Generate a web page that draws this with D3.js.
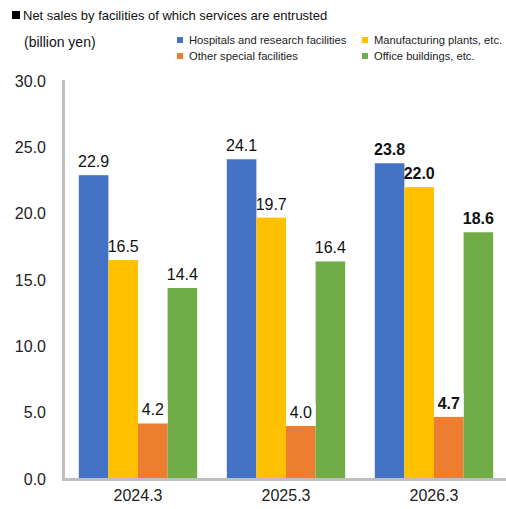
<!DOCTYPE html>
<html>
<head>
<meta charset="utf-8">
<script src="https://cdn.jsdelivr.net/npm/d3@7"></script>
<style>
  body { margin: 0; background: #fff; }
  svg { font-family: "Liberation Sans", Arial, sans-serif; }
</style>
</head>
<body>
<svg></svg>
<script>
// chart data
var years = ["2024.3", "2025.3", "2026.3"];
var seriesNames = [
  "Hospitals and research facilities",
  "Manufacturing plants, etc.",
  "Other special facilities",
  "Office buildings, etc."
];
var hospitals = [22.9, 24.1, 23.8];
var manufacturing = [16.5, 19.7, 22.0];
var otherSpecial = [4.2, 4.0, 4.7];
var offices = [14.4, 16.4, 18.6];
var yTicks = [0, 5, 10, 15, 20, 25, 30];

var colors = ["#4472C4", "#FFC000", "#ED7D31", "#70AD47"];
var seriesValues = [hospitals, manufacturing, otherSpecial, offices];

var width = 506;
var height = 509;

var svg = d3.select("svg").attr("width", width).attr("height", height);

var xScale = d3.scaleBand()
  .domain(years)
  .range([64, 508])
  .paddingInner(0.2)
  .paddingOuter(0.1);

var xInner = d3.scaleBand()
  .domain(d3.range(seriesNames.length))
  .range([0, xScale.bandwidth()]);

var yScale = d3.scaleLinear().domain([0, 30]).range([479, 81]);

/* title + unit */
svg.append("rect").attr("x", 12).attr("y", 11).attr("width", 8).attr("height", 8).attr("fill", "#000");
svg.append("text").attr("x", 23).attr("y", 20)
  .attr("font-size", "13px").attr("fill", "#111")
  .text("Net sales by facilities of which services are entrusted");
svg.append("text").attr("x", 24).attr("y", 47)
  .attr("font-size", "14px").attr("fill", "#111")
  .text("(billion yen)");

/* legend */
var legendPos = [[177, 40], [362, 40], [177, 56], [362, 56]];
var legend = svg.selectAll(".legend")
  .data(seriesNames)
  .enter()
  .append("g")
  .attr("class", "legend")
  .attr("transform", (d, i) => "translate(" + legendPos[i][0] + "," + legendPos[i][1] + ")");
legend.append("rect")
  .attr("x", 0).attr("y", -3).attr("width", 6).attr("height", 6)
  .attr("fill", (d, i) => colors[i]);
legend.append("text")
  .attr("x", 12).attr("y", 4)
  .attr("font-size", "11.2px").attr("fill", "#222")
  .text((d) => d);

/* y axis labels */
var yAxis = d3.axisLeft(yScale)
  .tickValues(yTicks)
  .tickFormat(d3.format(".1f"))
  .tickSize(0)
  .tickPadding(0);
var yG = svg.append("g").attr("transform", "translate(46,0)").call(yAxis);
yG.select(".domain").remove();
yG.selectAll("text").attr("font-size", "16px").attr("fill", "#222")
  .attr("font-family", "Liberation Sans, Arial, sans-serif");

/* bars */
var groups = svg.selectAll(".group")
  .data(years)
  .enter()
  .append("g")
  .attr("class", "group")
  .attr("transform", (d) => "translate(" + xScale(d) + ",0)");

groups.each(function (year, yi) {
  var g = d3.select(this);
  seriesValues.forEach((vals, si) => {
    var v = vals[yi];
    g.append("rect")
      .attr("x", xInner(si))
      .attr("y", yScale(v))
      .attr("width", xInner.bandwidth())
      .attr("height", yScale(0) - yScale(v))
      .attr("fill", colors[si]);
  });
});

/* data labels */
groups.each(function (year, yi) {
  var g = d3.select(this);
  seriesValues.forEach((vals, si) => {
    var v = vals[yi];
    if (si == 2) {
      g.append("rect")
        .attr("x", xInner(si))
        .attr("y", yScale(v) - 23)
        .attr("width", xInner.bandwidth())
        .attr("height", 23)
        .attr("fill", "#fff");
    }
    g.append("text")
      .attr("x", xInner(si) + xInner.bandwidth() / 2)
      .attr("y", yScale(v) - 8)
      .attr("text-anchor", "middle")
      .attr("font-size", "16px")
      .attr("font-weight", yi == 2 ? "bold" : "normal")
      .attr("fill", "#111")
      .text(v.toFixed(1));
  });
});

/* axis lines */
svg.append("line")
  .attr("x1", 63.5).attr("x2", 63.5)
  .attr("y1", yScale(30) - 1).attr("y2", 480)
  .attr("stroke", "#bfbfbf").attr("stroke-width", 3);
svg.append("line")
  .attr("x1", 62).attr("x2", width)
  .attr("y1", 479.5).attr("y2", 479.5)
  .attr("stroke", "#bfbfbf").attr("stroke-width", 3);

/* x axis labels */
var xAxis = d3.axisBottom(xScale).tickSize(0).tickPadding(0);
var xG = svg.append("g").attr("transform", "translate(0,490)").call(xAxis);
xG.select(".domain").remove();
xG.selectAll("text").attr("font-size", "16px").attr("fill", "#222")
  .attr("font-family", "Liberation Sans, Arial, sans-serif");
</script>
</body>
</html>
